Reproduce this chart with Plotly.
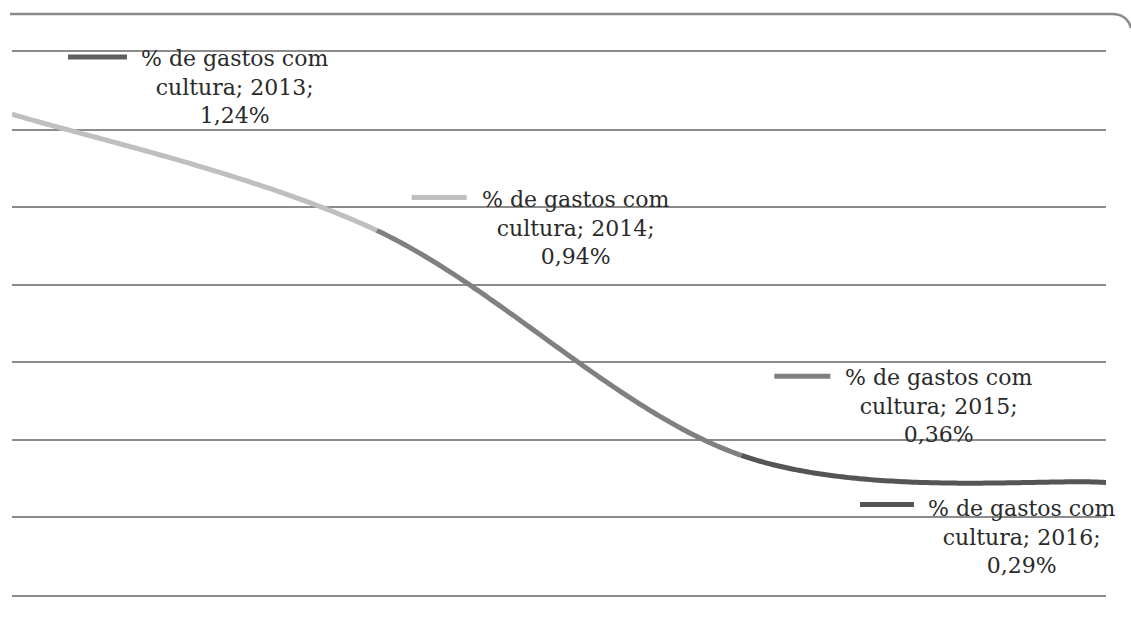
import numpy as np
import plotly.graph_objects as go

# Share of spending on culture, per year
years = ["2013", "2014", "2015", "2016"]
pct = [1.24, 0.94, 0.36, 0.29]
point_colors = ["#5f5f5f", "#bfbfbf", "#808080", "#555555"]
series_name = "% de gastos com cultura"
y_ticks = [0, 0.2, 0.4, 0.6, 0.8, 1.0, 1.2, 1.4]

W, H = 1131, 628
M = dict(l=12, r=25, t=52, b=33)

xs = np.arange(len(years), dtype=float)
ys = np.array(pct, dtype=float)


def bezier_segment(i, n=120):
    """Smoothed (Catmull-Rom style) cubic Bezier between points i and i+1."""
    p = np.column_stack([xs, ys])
    p_prev = p[max(i - 1, 0)]
    p0, p1 = p[i], p[i + 1]
    p_next = p[min(i + 2, len(p) - 1)]
    c1 = p0 + (p1 - p_prev) / 6.0
    c2 = p1 - (p_next - p0) / 6.0
    t = np.linspace(0, 1, n)[:, None]
    pts = ((1 - t) ** 3) * p0 + 3 * ((1 - t) ** 2) * t * c1 + 3 * (1 - t) * t ** 2 * c2 + t ** 3 * p1
    return pts[:, 0], pts[:, 1]


fig = go.Figure()

# each segment takes the colour of the point it ends on
for i in range(len(years) - 1):
    sx, sy = bezier_segment(i)
    fig.add_trace(go.Scatter(
        x=sx, y=sy, mode="lines",
        line=dict(color=point_colors[i + 1], width=5, simplify=False),
        hoverinfo="skip", showlegend=False,
    ))

# data labels: text offset (px, right / up) and legend key offset (px)
label_shift = [(222, 27), (199, 2), (197, 49), (-85, -54)]
key_offset = [(56, 115, 57), (35, 90, 33), (33, 89, 79), (-246, -192, -22)]

label_font = dict(family="DejaVu Serif", size=22, color="#2a2a2a")

for i, (yr, v) in enumerate(zip(years, pct)):
    value_txt = f"{v:.2f}".replace(".", ",") + "%"
    name_a, name_b = series_name.rsplit(" ", 1)
    text = f"{name_a}<br>{name_b}; {yr};<br>{value_txt}"
    dx, dy = label_shift[i]
    fig.add_annotation(
        x=xs[i], y=v, xref="x", yref="y", text=text, showarrow=False,
        xanchor="center", yanchor="middle", align="center",
        xshift=dx, yshift=dy, font=label_font,
    )
    kx0, kx1, ky = key_offset[i]
    fig.add_shape(
        type="line", xref="x", yref="y",
        xsizemode="pixel", ysizemode="pixel",
        xanchor=xs[i], yanchor=v,
        x0=kx0, x1=kx1, y0=ky, y1=ky,
        line=dict(color=point_colors[i], width=5),
    )

# chart area outline (top edge with rounded right corner)
pw = W - M["l"] - M["r"]
ph = H - M["t"] - M["b"]


def px(x):
    return (x - M["l"]) / pw


def py(y):
    return 1 - (y - M["t"]) / ph


path = (f"M {px(10)},{py(14)} L {px(1112)},{py(14)} "
        f"Q {px(1127)},{py(14)} {px(1131)},{py(28)}")
fig.add_shape(type="path", xref="paper", yref="paper", path=path,
              line=dict(color="#8a8a8a", width=2.5), layer="above")

grid_col = "#8c8c8c"
# top and bottom gridlines come from the mirrored x axis line
fig.update_xaxes(range=[0, len(years) - 1], showgrid=False, zeroline=False,
                 showticklabels=False, showline=True, mirror=True,
                 linecolor=grid_col, linewidth=1.5, ticks="")
fig.update_yaxes(range=[0, 1.4], tickvals=y_ticks, showgrid=True,
                 gridcolor=grid_col, gridwidth=1.5, zeroline=False,
                 showticklabels=False, showline=False, ticks="")

fig.update_layout(
    width=W, height=H, margin=M,
    paper_bgcolor="white", plot_bgcolor="white",
    showlegend=False,
)

fig.write_html("out.html", include_plotlyjs=True, config={"displayModeBar": False})
